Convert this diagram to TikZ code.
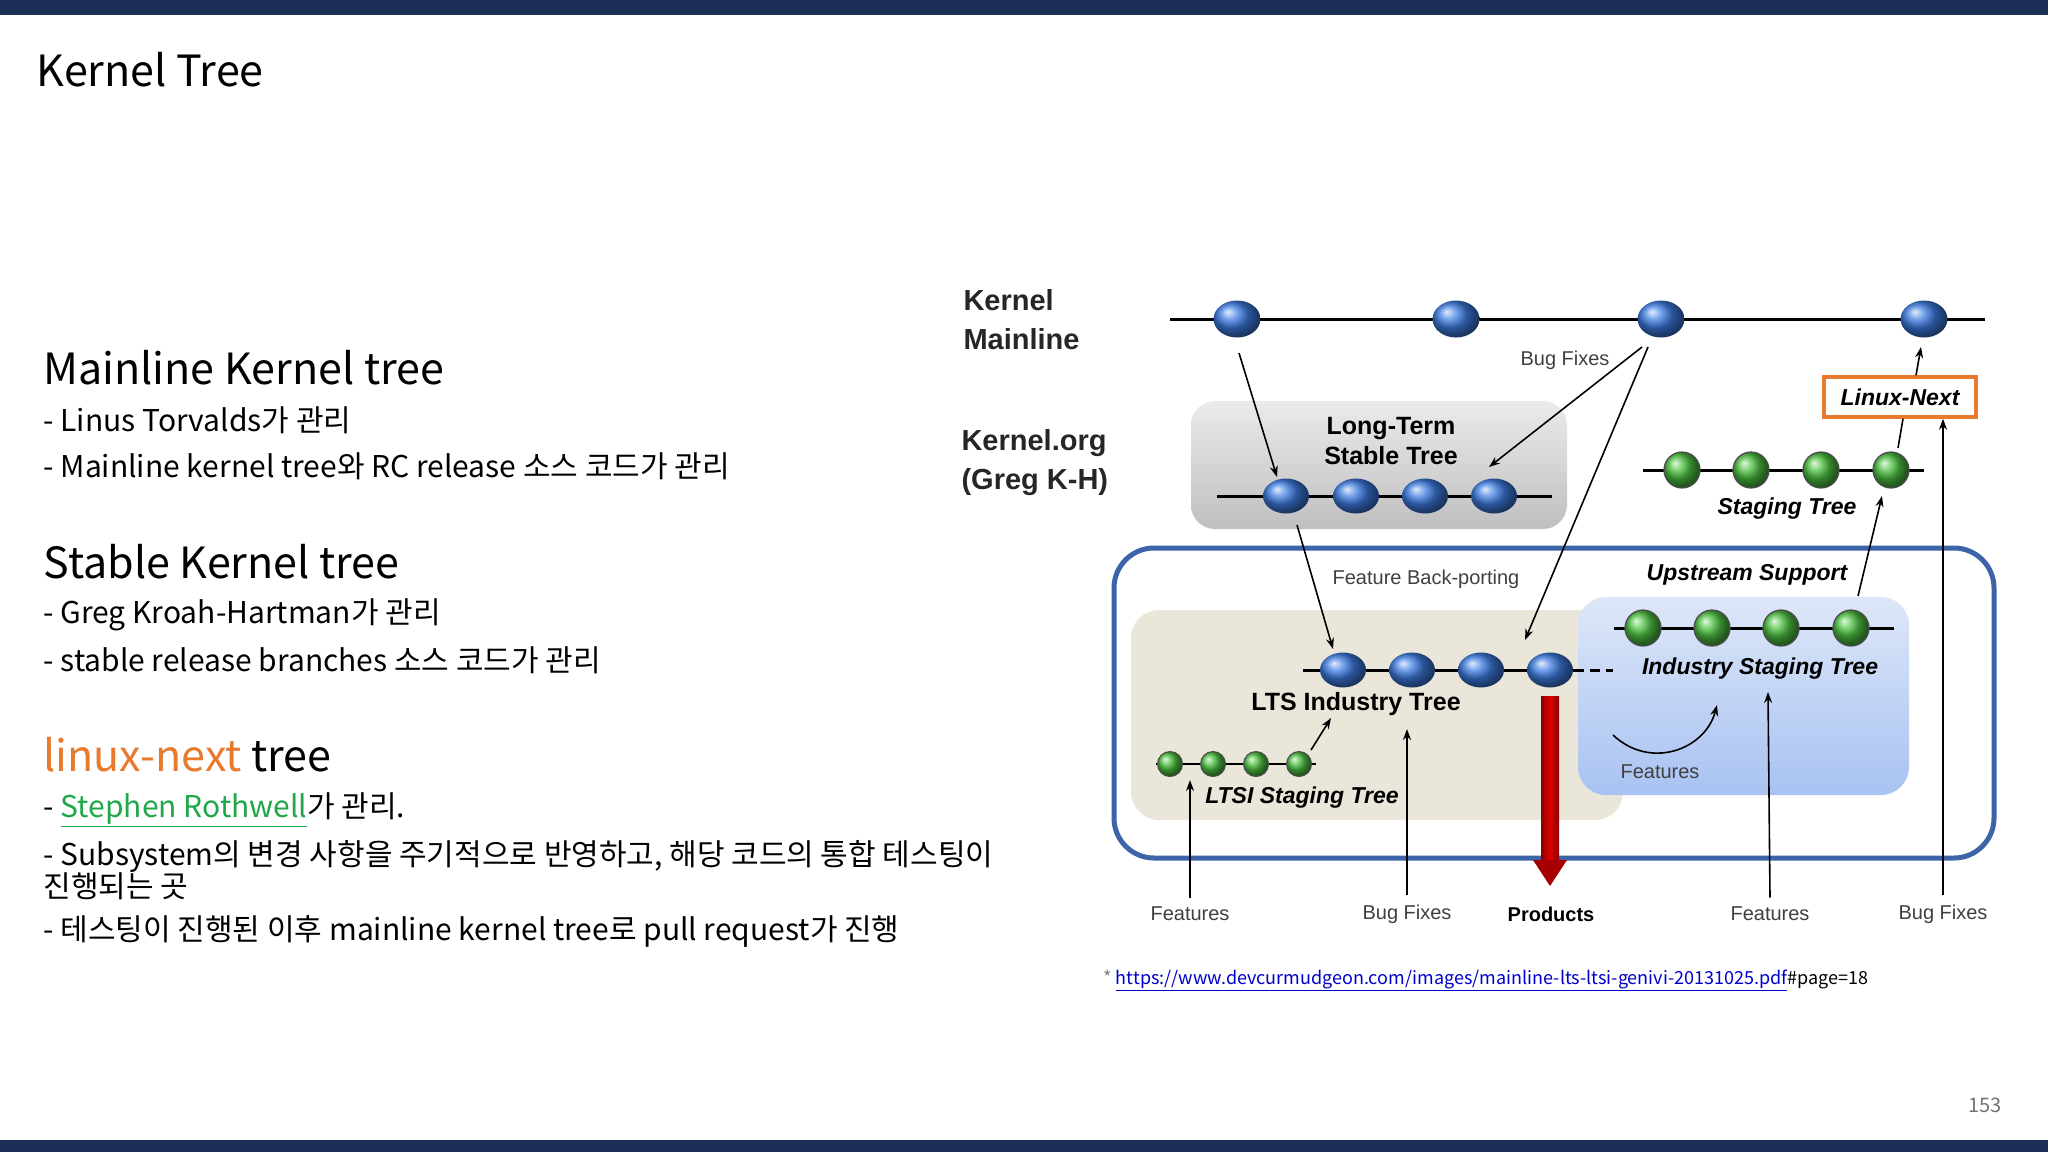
\documentclass[tikz,border=0pt]{standalone}
\usepackage{fontspec}
\setmainfont{Noto Sans CJK KR}
\newfontfamily\arial{Liberation Sans}
\usetikzlibrary{arrows.meta,shapes.geometric}
\definecolor{navy}{HTML}{1B2F57}
\definecolor{nblue}{HTML}{3D7BE0}
\definecolor{ngreen}{HTML}{4CC040}
\definecolor{obox}{HTML}{3D64A8}
\definecolor{orng}{HTML}{E87A2E}
\definecolor{lnext}{HTML}{E87A2E}
\definecolor{sgreen}{HTML}{1FA84A}
\definecolor{beige}{HTML}{EAE7DA}
\definecolor{bbtop}{HTML}{DDE7F8}
\definecolor{bbbot}{HTML}{A8C2F2}
\tikzset{
  bnode/.style={ellipse,minimum width=47pt,minimum height=37pt,inner sep=0pt,shading=ball,ball color=nblue},
  snode/.style={ellipse,minimum width=46pt,minimum height=35pt,inner sep=0pt,shading=ball,ball color=nblue},
  gnode/.style={circle,minimum size=36pt,inner sep=0pt,shading=ball,ball color=ngreen,draw=black!70,line width=1.2pt},
  tnode/.style={circle,minimum size=25pt,inner sep=0pt,shading=ball,ball color=ngreen,draw=black!70,line width=1pt},
  tline/.style={line width=3pt},
  arr/.style={-{Stealth[length=11pt,width=8pt]},line width=1.6pt},
  lab/.style={font=\arial\fontsize{20}{24}\selectfont,text=black!75},
  big/.style={font=\arial\bfseries\fontsize{29}{39}\selectfont,align=left,anchor=west,text=black!85},
  bi/.style={font=\arial\bfseries\itshape\fontsize{23}{28}\selectfont},
  body/.style={anchor=west,font=\fontsize{30}{32}\selectfont},
  head/.style={anchor=west,font=\fontsize{43}{48}\selectfont},
}
\begin{document}
\begin{tikzpicture}[x=1pt,y=-1pt]
\useasboundingbox (0,0) rectangle (2048,1152);
\fill[white] (0,0) rectangle (2048,1152);
\fill[navy] (0,0) rectangle (2048,15);
\fill[navy] (0,1140) rectangle (2048,1152);
\node[anchor=west,font=\fontsize{43}{48}\selectfont] (title) at (33,70) {Kernel Tree};
% left text
\node[head] (h1) at (40,368) {Mainline Kernel tree};
\node[body] (l1) at (40,420) {- Linus Torvalds가 관리};
\node[body] (l2) at (40,466) {- Mainline kernel tree와 RC release 소스 코드가 관리};
\node[head] (h2) at (40,562) {Stable Kernel tree};
\node[body] (l3) at (40,615) {- Greg Kroah-Hartman가 관리};
\node[body] (l4) at (40,660) {- stable release branches 소스 코드가 관리};
\node[head] (h3) at (40,755) {\textcolor{orng}{linux-next} tree};
\node[body] (l5) at (40,810) {- \textcolor{sgreen}{\underline{Stephen Rothwell}}가 관리.};
\node[body,align=left] (l6) at (40,870) {- Subsystem의 변경 사항을 주기적으로 반영하고, 해당 코드의 통합 테스팅이\\진행되는 곳};
\node[body] (l7) at (40,931) {- 테스팅이 진행된 이후 mainline kernel tree로 pull request가 진행};
\node[anchor=west,font=\fontsize{18}{20}\selectfont] (url) at (1100,980) {\textcolor{black!50}{*}\ \textcolor{blue!80!black}{\underline{https://www.devcurmudgeon.com/images/mainline-lts-ltsi-genivi-20131025.pdf}}\#page=18};
\node[font=\fontsize{20}{22}\selectfont,text=black!55] (pg) at (1985,1105) {153};
% boxes
\draw[obox,line width=5pt,fill=white,rounded corners=40pt] (1114,548) rectangle (1994,858);
\fill[beige,rounded corners=28pt] (1131,610) rectangle (1623,820);
\shade[top color=bbtop,bottom color=bbbot,rounded corners=28pt] (1578,597) rectangle (1909,795);
\shade[top color=black!8,bottom color=black!25,rounded corners=24pt] (1191,401) rectangle (1567,529);
% labels
\node[big] (km) at (960,320) {Kernel\\Mainline};
\node[big] (ko) at (958,463) {Kernel.org\\(Greg K-H)};
\node[font=\arial\bfseries\fontsize{25}{30}\selectfont,align=center] (lts) at (1391,441) {Long-Term\\Stable Tree};
\node[lab] (bf1) at (1565,360) {Bug Fixes};
\node[lab] (fbp) at (1426,579) {Feature Back-porting};
\node[bi] (us) at (1747,575) {Upstream Support};
\node[bi] (st) at (1787,509) {Staging Tree};
\node[bi] (ist) at (1760,669) {Industry Staging Tree};
\node[font=\arial\bfseries\fontsize{25}{30}\selectfont] (lit) at (1356,704) {LTS Industry Tree};
\node[bi] (lst) at (1302,798) {LTSI Staging Tree};
\node[lab] (f0) at (1660,772) {Features};
\node[draw=lnext,line width=3.5pt,minimum width=152pt,minimum height=40pt,font=\arial\bfseries\itshape\fontsize{23}{28}\selectfont] (ln) at (1900,397) {Linux-Next};
% lines
\draw[tline] (1170,319) -- (1985,319);
\draw[tline] (1217,496) -- (1552,496);
\draw[tline] (1643,470) -- (1924,470);
\draw[tline] (1303,670) -- (1574,670);
\draw[tline,dashed,dash pattern=on 10pt off 6pt] (1574,670) -- (1613,670);
\draw[tline] (1614,628) -- (1894,628);
\draw[line width=2.5pt] (1156,764) -- (1316,764);
% nodes
\foreach \x [count=\i] in {1237,1456,1661,1924} \node[bnode] (m\i) at (\x,319) {};
\foreach \x [count=\i] in {1286,1356,1425,1494} \node[snode] (s\i) at (\x,496) {};
\foreach \x [count=\i] in {1682,1751,1821,1891} \node[gnode] (g\i) at (\x,470) {};
\foreach \x [count=\i] in {1343,1412,1481,1550} \node[snode] (t\i) at (\x,670) {};
\foreach \x [count=\i] in {1643,1712,1781,1851} \node[gnode] (i\i) at (\x,628) {};
\foreach \x [count=\i] in {1170,1213,1256,1299} \node[tnode] (q\i) at (\x,764) {};
% bottom labels
\node[lab] (bf) at (1190,914) {Features};
\node[lab] (bb) at (1407,914) {Bug Fixes};
\node[font=\arial\bfseries\fontsize{20}{24}\selectfont] (pr) at (1551,914) {Products};
\node[lab] (bf2) at (1770,914) {Features};
\node[lab] (bb2) at (1943,914) {Bug Fixes};
% red arrow
\shade[left color=red!55!black,right color=red!55!black,middle color=red!85!black] (1541,696) rectangle (1559,862);
\fill[red!65!black] (1533,860) -- (1567,860) -- (1550,886) -- cycle;
% arrows
\draw[arr] (1239,353) -- (1277,477);
\draw[arr] (1642,347) -- (1489,467);
\draw[arr] (1648,347) -- (1525,640);
\draw[arr] (1297,525) -- (1333,649);
\draw[arr] (1311,750) -- (1331,718);
\draw[arr] (1858,596) -- (1882,496);
\draw[line width=1.6pt] (1898,448) -- (ln.south -| 1903,0);
\draw[arr] (ln.north -| 1916,0) -- (1921,347);
\draw[arr] (bf.north) ++(0,-6) -- (1190,780);
\draw[arr] (bb.north) ++(0,-6) -- (1407,729);
\draw[arr] (bf2.north) ++(0,-6) -- (1768,692);
\draw[arr] (bb2.north) ++(0,-6) -- (ln.south -| 1943,0);
\draw[arr] (1613,735) .. controls (1650,770) and (1705,750) .. (1717,705);
\end{tikzpicture}
\end{document}
